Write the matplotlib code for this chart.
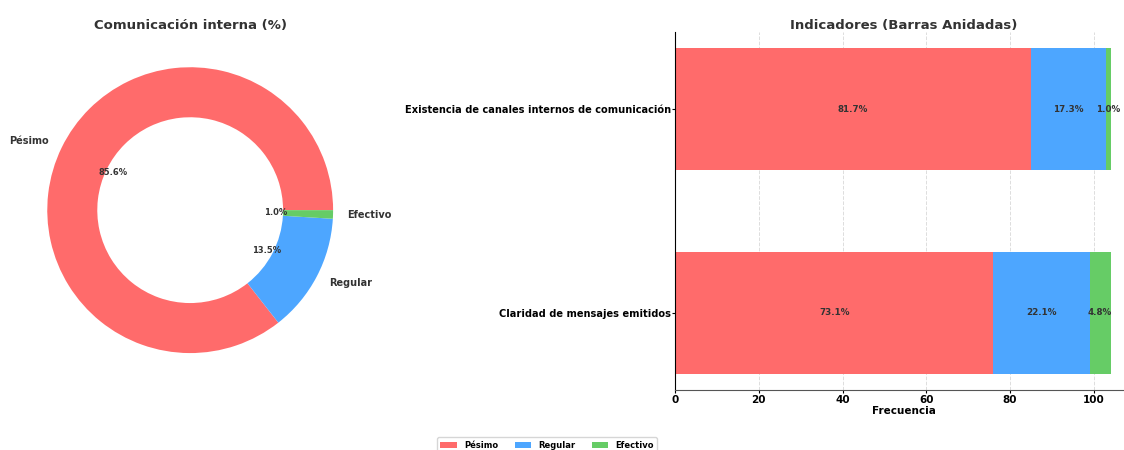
import numpy as np
import matplotlib.pyplot as plt

# categorias y colores
categorias = ['Pésimo', 'Regular', 'Efectivo']
colores = ['#FF6B6B', '#4DA6FF', '#66CC66']

# comunicacion interna (frecuencias)
pie_vals = [89, 14, 1]

# indicadores
indicadores = ['Existencia de canales internos de comunicación',
               'Claridad de mensajes emitidos']
pesimo = [85, 76]
regular = [18, 23]
efectivo = [1, 5]

plt.rcParams['font.family'] = 'DejaVu Sans'
plt.rcParams['font.weight'] = 'bold'
txt = '#333333'

fig = plt.figure(figsize=(11.24, 4.5), dpi=100)

# --- dona ---
ax1 = fig.add_axes([0.0102, 0.136, 0.318, 0.794])
wedges, texts, autotexts = ax1.pie(pie_vals, labels=categorias, colors=colores,
                                   autopct='%1.1f%%', pctdistance=0.6,
                                   wedgeprops=dict(width=0.35),
                                   textprops=dict(color=txt, fontweight='bold'))
for t in texts:
    t.set_fontsize(7)
for t in autotexts:
    t.set_fontsize(6)
ax1.set_title('Comunicación interna (%)', fontsize=9.5, fontweight='bold', color=txt, pad=2)

# --- barras apiladas ---
ax2 = fig.add_axes([0.6005, 0.133, 0.407, 0.796])
y = np.arange(len(indicadores))[::-1]
series = [pesimo, regular, efectivo]
left = np.zeros(len(indicadores))
totales = np.sum(series, axis=0)
for nombre, vals, c in zip(categorias, series, colores):
    vals = np.array(vals)
    ax2.barh(y, vals, left=left, height=0.6, color=c, label=nombre, zorder=2)
    for yi, v, l, tot in zip(y, vals, left, totales):
        ax2.text(l + v / 2, yi, f'{v / tot * 100:.1f}%', ha='center', va='center',
                 fontsize=6.3, fontweight='bold', color=txt, zorder=3)
    left += vals

ax2.set_yticks(y)
ax2.set_yticklabels(indicadores, fontsize=7.1, fontweight='bold')
ax2.tick_params(axis='y', length=2, pad=1)
ax2.set_xlim(0, 109.2)
ax2.set_xticks([0, 20, 40, 60, 80, 100])
ax2.tick_params(axis='x', labelsize=7.5, length=2, pad=1.5)
ax2.set_xlabel('Frecuencia', fontsize=7.5, fontweight='bold', labelpad=1)
ax2.set_title('Indicadores (Barras Anidadas)', fontsize=9.5, fontweight='bold', color=txt, pad=2)
ax2.grid(axis='x', linestyle='--', color='#dddddd', linewidth=0.7, zorder=0)
ax2.spines['top'].set_visible(False)
ax2.spines['right'].set_visible(False)
ax2.spines['bottom'].set_color('#555555')

handles, labels = ax2.get_legend_handles_labels()
fig.legend(handles, labels, loc='center', bbox_to_anchor=(547 / 1124, 1 - 445 / 450),
           ncol=3, fontsize=6, frameon=True, handlelength=2.0, columnspacing=2.0)

fig.savefig('out.png', dpi=100)
